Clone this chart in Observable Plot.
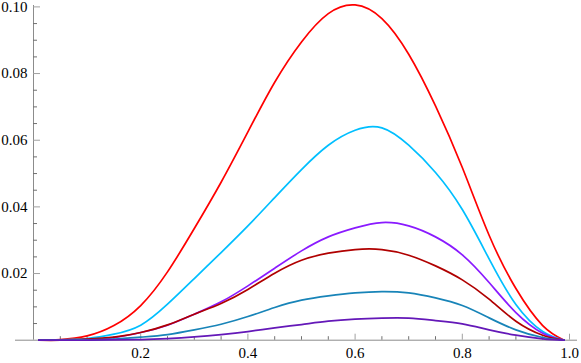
<!DOCTYPE html>
<html>
<head>
<meta charset="utf-8">
<script src="https://cdn.jsdelivr.net/npm/d3@7"></script>
<script src="https://cdn.jsdelivr.net/npm/@observablehq/plot@0.6"></script>
<style>
  html, body { margin: 0; padding: 0; background: #fff; }
  #chart svg { display: block; }
  #chart svg text { font-family: "Liberation Serif", "DejaVu Serif", serif !important; }
</style>
</head>
<body>
<div id="chart"></div>
<script>
// x positions where the curves were read
const xs = [0.01, 0.05, 0.1, 0.15, 0.2, 0.25, 0.3, 0.35, 0.4, 0.45, 0.5, 0.55, 0.6, 0.65, 0.7, 0.75, 0.8, 0.85, 0.9, 0.95, 0.99];

// series values
const series1 = [0, 0.0002, 0.0013, 0.0044, 0.0104, 0.0205, 0.0335, 0.0474, 0.0625, 0.0774, 0.0895, 0.0980, 0.1006, 0.0965, 0.0858, 0.0703, 0.0518, 0.0315, 0.0155, 0.0044, 0];
const series2 = [0, 0.0001, 0.0005, 0.0018, 0.0045, 0.0108, 0.0185, 0.0263, 0.0343, 0.0428, 0.0512, 0.0585, 0.0630, 0.0637, 0.0585, 0.0503, 0.0392, 0.0244, 0.0107, 0.0026, 0];
const series3 = [0, 0.0000, 0.0002, 0.0008, 0.0023, 0.0045, 0.0078, 0.0115, 0.0163, 0.0216, 0.0268, 0.0310, 0.0337, 0.0353, 0.0343, 0.0310, 0.0256, 0.0173, 0.0083, 0.0021, 0];
const series4 = [0, 0.0000, 0.0003, 0.0009, 0.0023, 0.0046, 0.0078, 0.0110, 0.0152, 0.0201, 0.0240, 0.0261, 0.0272, 0.0272, 0.0255, 0.0223, 0.0181, 0.0123, 0.0057, 0.0015, 0];
const series5 = [0, 0.0000, 0.0001, 0.0003, 0.0009, 0.0017, 0.0031, 0.0048, 0.0071, 0.0098, 0.0120, 0.0133, 0.0142, 0.0146, 0.0142, 0.0127, 0.0104, 0.0067, 0.0031, 0.0008, 0];
const series6 = [0, 0.0000, 0.0000, 0.0001, 0.0002, 0.0005, 0.0010, 0.0017, 0.0026, 0.0037, 0.0047, 0.0057, 0.0063, 0.0066, 0.0066, 0.0059, 0.0049, 0.0031, 0.0015, 0.0004, 0];

const seriesNames = ["S1", "S2", "S3", "S4", "S5", "S6"];
const seriesColors = ["#ff0000", "#00bfff", "#8a1aff", "#b00000", "#1884b8", "#6418b8"];
const seriesValues = [series1, series2, series3, series4, series5, series6];

// tick values / labels
const xMajorTicks = [0.2, 0.4, 0.6, 0.8, 1.0];
const xMinorTicks = [0.05, 0.1, 0.15, 0.25, 0.3, 0.35, 0.45, 0.5, 0.55, 0.65, 0.7, 0.75, 0.85, 0.9, 0.95];
const yMajorTicks = [0.02, 0.04, 0.06, 0.08, 0.10];
const yMinorTicks = [0.005, 0.01, 0.015, 0.025, 0.03, 0.035, 0.045, 0.05, 0.055, 0.065, 0.07, 0.075, 0.085, 0.09, 0.095];

const rows = [];
seriesValues.forEach((vals, i) => {
  vals.forEach((v, j) => rows.push({x: xs[j], y: v, s: seriesNames[i]}));
});

const W = 581, H = 363;
const mL = 33, mR = 12, mT = 6.4, mB = 23.3;
const xPerPx = 1 / (W - mL - mR);
const yPerPx = 0.1 / (H - mT - mB);

const font = "Liberation Serif, DejaVu Serif, serif";

const chart = Plot.plot({
  width: W,
  height: H,
  marginLeft: mL,
  marginRight: mR,
  marginTop: mT,
  marginBottom: mB,
  style: {fontFamily: font, fontSize: "15px", background: "#fff", overflow: "visible"},
  x: {domain: [0, 1]},
  y: {domain: [0, 0.1]},
  color: {domain: seriesNames, range: seriesColors},
  marks: [
    Plot.ruleY([0], {x1: -18 * xPerPx, x2: 1 + 8 * xPerPx, stroke: "#8c8c8c", strokeWidth: 1}),
    Plot.ruleX([0], {y1: 0, y2: 0.1 + 1.4 * yPerPx, stroke: "#8c8c8c", strokeWidth: 1}),
    Plot.ruleY(yMajorTicks, {x1: 0, x2: 7 * xPerPx, stroke: "#a0a0a0", strokeWidth: 1}),
    Plot.ruleY(yMinorTicks, {x1: 0, x2: 4 * xPerPx, stroke: "#707070", strokeWidth: 1}),
    Plot.ruleX(xMajorTicks, {y1: 0, y2: 6 * yPerPx, stroke: "#a0a0a0", strokeWidth: 1}),
    Plot.ruleX(xMinorTicks, {y1: 0, y2: 3.5 * yPerPx, stroke: "#707070", strokeWidth: 1}),
    Plot.axisX({ticks: xMajorTicks, tickSize: 0, tickPadding: 7, tickFormat: d3.format(".1f"), label: null, fill: "#000", fontSize: 15, fontFamily: font}),
    Plot.axisY({ticks: yMajorTicks, tickSize: 0, tickPadding: 6, tickFormat: d3.format(".2f"), label: null, fill: "#000", fontSize: 15, fontFamily: font}),
    Plot.line(rows, {x: "x", y: "y", z: "s", stroke: "s", strokeWidth: 1.7, curve: "natural"})
  ]
});

document.getElementById("chart").appendChild(chart);
</script>
</body>
</html>
